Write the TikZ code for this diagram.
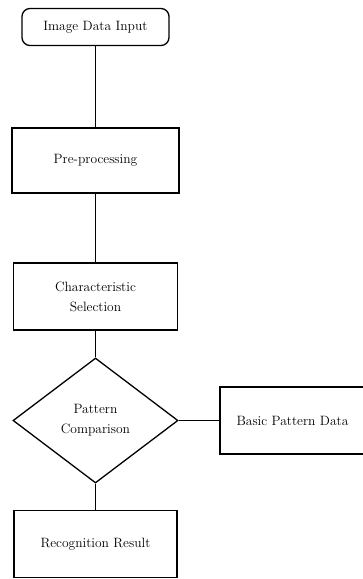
\documentclass[tikz,border=0pt]{standalone}
\usetikzlibrary{shapes.geometric}

\begin{document}
\begin{tikzpicture}[x=1pt,y=1pt,line width=1.3pt,
    every node/.style={font=\fontsize{13.5}{20}\selectfont,align=center},
    startbox/.style={draw,rounded corners=8pt,minimum width=147pt,minimum height=37pt},
    procbox/.style={draw,minimum height=67pt},
    testbox/.style={draw,diamond,minimum width=165pt,minimum height=125pt,inner sep=0pt}]
      \useasboundingbox (0,0) rectangle (362,-579);

      \node[startbox] (input) at (95.5,-27) {Image Data Input};
      \node[procbox,minimum width=167pt,minimum height=65pt] (pre) at (95.5,-160.5) {Pre-processing};
      \node[procbox,minimum width=164pt] (sel) at (95.5,-296.5) {Characteristic\\Selection};
      \node[testbox] (cmp) at (95.5,-420.5) {Pattern\\Comparison};
      \node[procbox,minimum width=145pt] (base) at (292.5,-420.5) {Basic Pattern Data};
      \node[procbox,minimum width=163pt] (res) at (95.5,-544) {Recognition Result};

      \draw (input) -- (pre);
      \draw (pre) -- (sel);
      \draw (sel) -- (cmp);
      \draw (cmp) -- (base);
      \draw (cmp) -- (res);
    \end{tikzpicture}
\end{document}
